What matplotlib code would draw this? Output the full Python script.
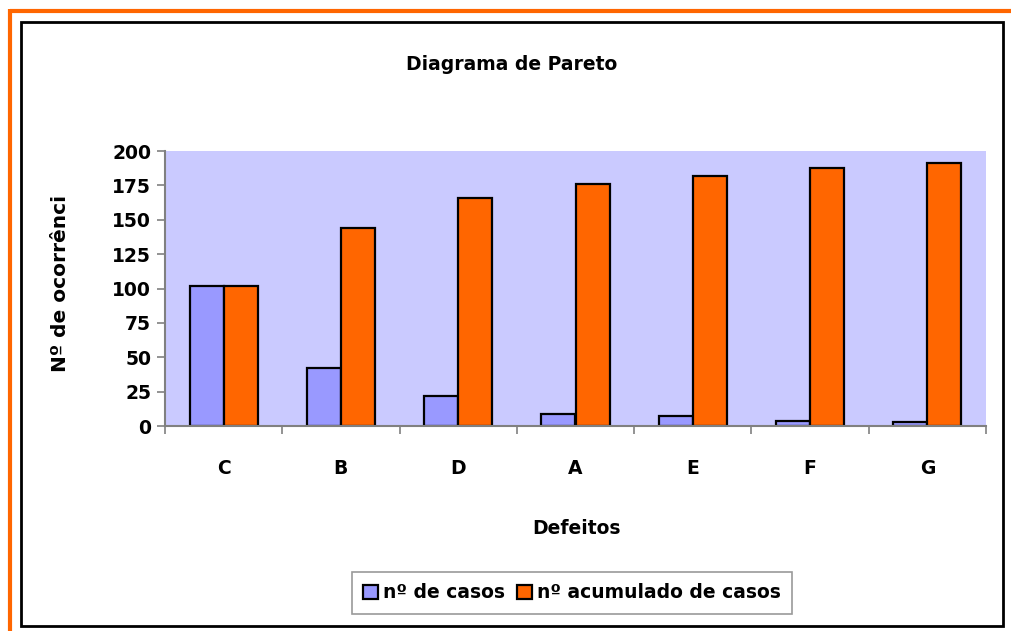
import matplotlib
matplotlib.use("Agg")
import matplotlib.pyplot as plt
import numpy as np
from matplotlib.patches import Rectangle
from matplotlib.lines import Line2D

# dados
defeitos = ["C", "B", "D", "A", "E", "F", "G"]
n_casos = [102, 42, 22, 9, 7, 4, 3]
n_acumulado = [102, 144, 166, 176, 182, 188, 191]
y_ticks = [0, 25, 50, 75, 100, 125, 150, 175, 200]

W, H = 1011, 631
fig = plt.figure(figsize=(W / 100, H / 100), dpi=100)
fig.patch.set_facecolor("white")

# moldura laranja (topo e esquerda) e moldura preta
fig.add_artist(Line2D([9.5 / W, 1], [1 - 11 / H, 1 - 11 / H], color="#FF6600",
                      lw=3, transform=fig.transFigure, solid_capstyle="butt"))
fig.add_artist(Line2D([9.5 / W, 9.5 / W], [0, 1 - 9 / H], color="#FF6600",
                      lw=3, transform=fig.transFigure, solid_capstyle="butt"))
fig.add_artist(Rectangle((21 / W, 1 - 626 / H), (1003 - 21) / W, (626 - 22) / H,
                         fill=False, edgecolor="black", lw=2,
                         transform=fig.transFigure))

ax = fig.add_axes([165 / W, 1 - 426 / H, (986 - 165) / W, (426 - 151) / H])
ax.set_facecolor("#CACAFF")

x = np.arange(len(defeitos))
bw = 0.29
ax.bar(x - bw / 2, n_casos, bw, color="#9999FF", edgecolor="black", lw=1.6,
       label="nº de casos")
ax.bar(x + bw / 2, n_acumulado, bw, color="#FF6600", edgecolor="black", lw=1.6,
       label="nº acumulado de casos")

ax.set_xlim(-0.5, len(defeitos) - 0.5)
ax.set_ylim(0, 200)
ax.set_yticks(y_ticks)
ax.set_yticklabels([str(v) for v in y_ticks], fontsize=13.5, fontweight="bold")
ax.set_xticks(x)
ax.set_xticklabels(defeitos, fontsize=13.5, fontweight="bold")
ax.set_xticks(np.arange(len(defeitos) + 1) - 0.5, minor=True)
ax.tick_params(axis="x", which="major", length=0, pad=24)
ax.tick_params(axis="x", which="minor", length=6, color="#808080", width=1.2)
ax.tick_params(axis="y", length=6, color="#808080", width=1.2, pad=4)

for s in ["top", "right"]:
    ax.spines[s].set_visible(False)
for s in ["left", "bottom"]:
    ax.spines[s].set_color("#808080")
    ax.spines[s].set_linewidth(1.5)

fig.text(512 / W, 1 - 64 / H, "Diagrama de Pareto", ha="center", va="center",
         fontsize=13.5, fontweight="bold")
fig.text(576 / W, 1 - 529 / H, "Defeitos", ha="center", va="center",
         fontsize=13.5, fontweight="bold")

# rótulo do eixo y cortado, como no original
fig.text(60 / W, 1 - 372 / H, "Nº de ocorrênci", rotation=90, ha="center",
         va="bottom", fontsize=14.5, fontweight="bold")

leg = fig.legend(loc="center", bbox_to_anchor=(572 / W, 1 - 593 / H), ncol=2,
                 prop={"size": 13.5, "weight": "bold"}, frameon=True, fancybox=False,
                 handlelength=0.8, handleheight=0.8, handletextpad=0.3,
                 columnspacing=0.6, borderpad=0.6)
leg.get_frame().set_edgecolor("#808080")
leg.get_frame().set_linewidth(1.2)

fig.savefig("out.png", dpi=100)
